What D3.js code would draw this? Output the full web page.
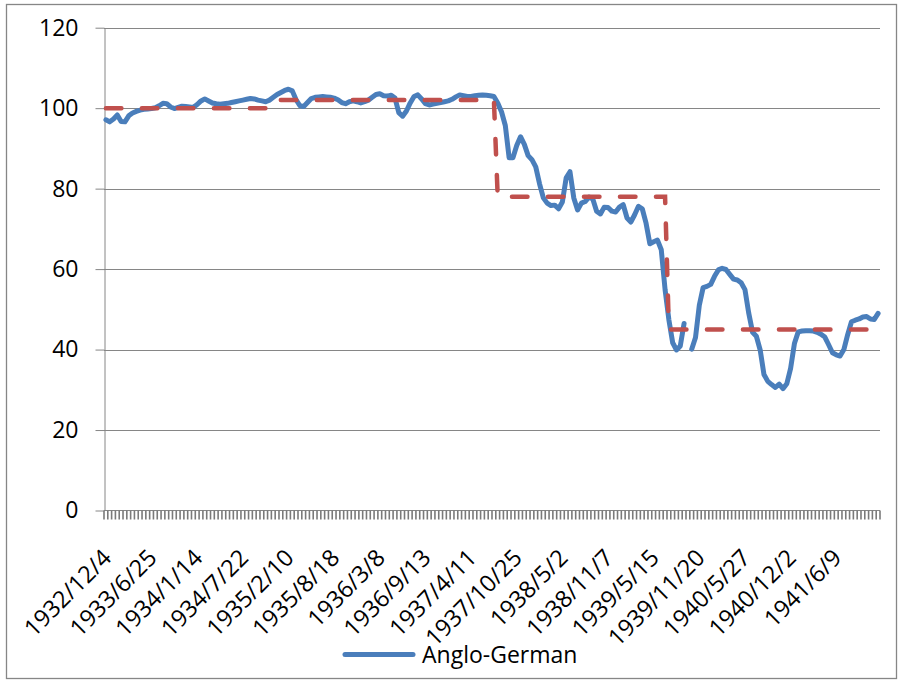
<!DOCTYPE html>
<html>
<head>
<meta charset="utf-8">
<script src="https://cdn.jsdelivr.net/npm/d3@7"></script>
<style>
  body { margin: 0; background: #fff; }
  svg { display: block; }
  text { font-family: "Open Sans", "Noto Sans", sans-serif; fill: #000; }
</style>
</head>
<body>
<svg id="chart" width="905" height="683"></svg>
<script>
// Category labels shown on the x axis (one every `labelEvery` observations)
const tickLabels = [
  "1932/12/4", "1933/6/25", "1934/1/14", "1934/7/22", "1935/2/10", "1935/8/18",
  "1936/3/8", "1936/9/13", "1937/4/11", "1937/10/25", "1938/5/2", "1938/11/7",
  "1939/5/15", "1939/11/20", "1940/5/27", "1940/12/2", "1941/6/9"
];
const labelEvery = 12;

// Anglo-German index, one value per observation (null = missing)
const angloGerman = [
  97.1, 96.6, 97.3, 98.3, 96.7, 96.6, 98.1, 98.8, 99.2, 99.5, 99.7, 99.8,
  99.9, 100.1, 100.6, 101.2, 101.1, 100.3, 99.9, 100.2, 100.5, 100.4, 100.3, 100.2,
  100.9, 101.8, 102.3, 101.8, 101.3, 101.1, 101.0, 101.1, 101.2, 101.4, 101.6, 101.8,
  102.0, 102.2, 102.4, 102.3, 102.0, 101.8, 101.6, 102.0, 102.7, 103.4, 103.9, 104.4,
  104.7, 104.3, 102.1, 100.6, 100.4, 101.4, 102.4, 102.7, 102.8, 102.9, 102.8, 102.7,
  102.5, 102.1, 101.4, 101.1, 101.6, 101.8, 101.6, 101.3, 101.6, 102.0, 102.7, 103.4,
  103.6, 103.1, 103.0, 103.2, 102.5, 98.9, 98.0, 99.3, 101.3, 102.9, 103.3, 102.3,
  101.1, 100.8, 101.0, 101.2, 101.4, 101.6, 101.8, 102.2, 102.8, 103.3, 103.1, 102.9,
  102.9, 103.1, 103.2, 103.3, 103.2, 103.1, 102.9, 101.3, 99.1, 95.7, 87.7, 87.7,
  90.7, 92.9, 91.0, 88.2, 87.2, 85.4, 81.2, 77.7, 76.4, 75.8, 75.9, 75.0,
  76.7, 82.7, 84.2, 77.7, 74.7, 76.4, 76.8, 77.9, 77.4, 74.4, 73.7, 75.4,
  75.3, 74.4, 74.2, 75.4, 76.0, 72.7, 71.7, 73.5, 75.6, 75.0, 71.4, 66.3,
  66.8, 67.2, 64.8, 54.9, 47.4, 41.7, 39.9, 40.9, 46.5, null, 40.1, 43.0,
  51.0, 55.4, 55.7, 56.2, 58.2, 59.8, 60.2, 59.9, 58.7, 57.5, 57.3, 56.6,
  54.9, 49.0, 44.3, 43.3, 39.9, 33.8, 32.1, 31.3, 30.6, 31.4, 30.3, 31.5,
  35.3, 41.5, 44.4, 44.6, 44.7, 44.7, 44.6, 44.3, 43.8, 43.1, 41.2, 39.2,
  38.7, 38.4, 40.0, 43.7, 46.9, 47.3, 47.6, 48.1, 48.2, 47.6, 47.5, 49.0
];

// Period means: each period starts at the given observation index
const regimeStart = [0, 44, 103, 148];
const regimeMean = [100, 102, 78, 45];

const yTicks = [0, 20, 40, 60, 80, 100, 120];

const svg = d3.select("#chart");
const plot = { left: 104, right: 880, top: 27.7, bottom: 510.5 };
const grey = "#868686";

// chart frame
svg.append("rect")
  .attr("x", 6.5).attr("y", 4.5).attr("width", 890).attr("height", 674)
  .attr("fill", "#fff").attr("stroke", grey).attr("stroke-width", 1.3);

const x = d3.scaleBand()
  .domain(d3.range(angloGerman.length))
  .range([plot.left, plot.right]);
const cx = i => x(i) + x.bandwidth() / 2;

const y = d3.scaleLinear().domain([0, 120]).range([plot.bottom, plot.top]);

// horizontal gridlines
svg.append("g")
  .selectAll("line")
  .data(yTicks.filter(d => d > 0))
  .join("line")
  .attr("x1", plot.left).attr("x2", plot.right)
  .attr("y1", d => Math.round(y(d)) + 0.5).attr("y2", d => Math.round(y(d)) + 0.5)
  .attr("stroke", grey).attr("stroke-width", 1);

// value axis
const yAxis = svg.append("g")
  .attr("transform", `translate(${plot.left + 0.5},0)`)
  .call(d3.axisLeft(y).tickValues(yTicks).tickSize(9).tickSizeOuter(0).tickPadding(17));
yAxis.select(".domain").attr("stroke", grey);
yAxis.selectAll(".tick line").attr("stroke", grey);
yAxis.selectAll(".tick text")
  .attr("font-size", 23)
  .attr("font-family", "'Open Sans', sans-serif")
  .attr("fill", "#000");

// category axis line and tick marks at category boundaries
const xAxis = svg.append("g");
xAxis.append("line")
  .attr("x1", plot.left).attr("x2", plot.right)
  .attr("y1", plot.bottom).attr("y2", plot.bottom)
  .attr("stroke", grey);
const bounds = d3.range(angloGerman.length + 1)
  .map(k => (k < angloGerman.length ? x(k) : plot.right));
xAxis.selectAll("line.tk")
  .data(bounds)
  .join("line")
  .attr("class", "tk")
  .attr("x1", d => d).attr("x2", d => d)
  .attr("y1", plot.bottom).attr("y2", plot.bottom + 9)
  .attr("stroke", "#7a7a7a").attr("stroke-width", 1.6);

// rotated category labels
xAxis.selectAll("text")
  .data(tickLabels)
  .join("text")
  .attr("transform", (d, j) => `translate(${cx(j * labelEvery) + 1},${plot.bottom + 43}) rotate(-45)`)
  .attr("text-anchor", "end")
  .attr("dy", "0.35em")
  .attr("font-size", 23.5)
  .text(d => d);

// Anglo-German series
const line = d3.line()
  .defined(d => d != null)
  .x((d, i) => cx(i))
  .y(d => y(d));

svg.append("path")
  .datum(angloGerman)
  .attr("d", line)
  .attr("fill", "none")
  .attr("stroke", "#4A7EBB")
  .attr("stroke-width", 5)
  .attr("stroke-linejoin", "round")
  .attr("stroke-linecap", "round");

// period means, dashed
const meanSeries = angloGerman.map((_, i) => regimeMean[d3.bisectRight(regimeStart, i) - 1]);
svg.append("path")
  .datum(meanSeries)
  .attr("d", d3.line().x((d, i) => cx(i)).y(d => y(d)))
  .attr("fill", "none")
  .attr("stroke", "#C0504D")
  .attr("stroke-width", 4.5)
  .attr("stroke-linecap", "round")
  .attr("stroke-dasharray", "15.5,20.5");

// legend
const legend = svg.append("g").attr("transform", "translate(0,654.5)");
legend.append("line")
  .attr("x1", 345).attr("x2", 413)
  .attr("stroke", "#4A7EBB").attr("stroke-width", 5).attr("stroke-linecap", "round");
legend.append("text")
  .attr("x", 422).attr("dy", "0.35em")
  .attr("font-size", 23)
  .text("Anglo-German");
</script>
</body>
</html>
